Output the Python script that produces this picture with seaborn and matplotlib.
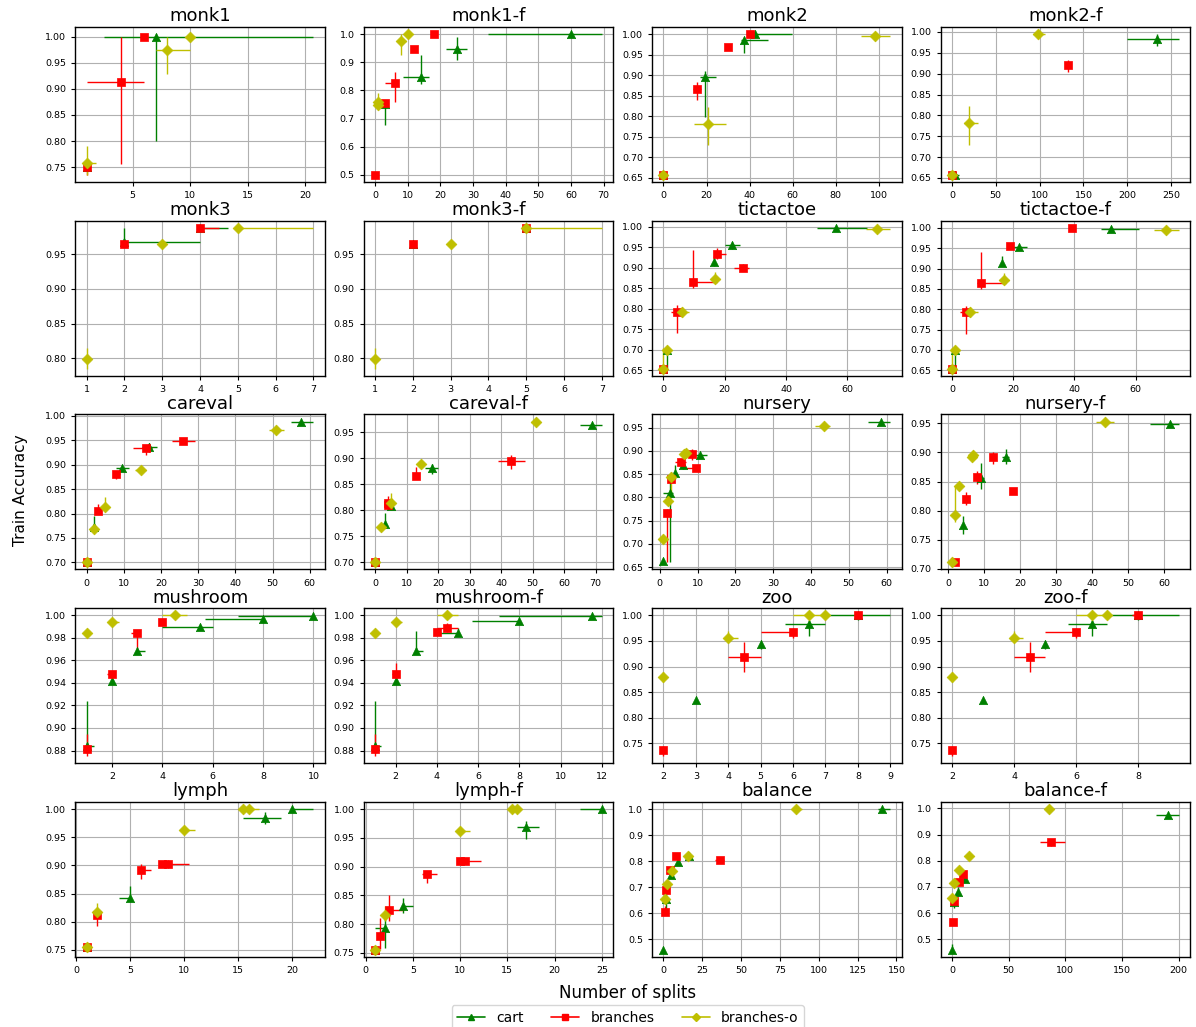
import matplotlib
matplotlib.use("Agg")
import pandas as pd
import matplotlib.pyplot as plt
from matplotlib.lines import Line2D
import seaborn as sns

# Each point: (x, y) or (x, y, x_lo, x_hi, y_lo, y_hi) with the error bar ends
monk1_cart = [(1, 0.75), (7, 1.0, 2.5, 20.7, 0.80, 1.005)]
monk1_branches = [(1, 0.75, 1, 1, 0.735, 0.755), (4, 0.914, 1, 6, 0.756, 1.0), (6, 1.0)]
monk1_branches_o = [(1, 0.758, 1, 1.8, 0.735, 0.79), (8, 0.974, 7, 10, 0.928, 1.0), (10, 1.0)]

monk1f_cart = [(3, 0.752, 3, 3, 0.679, 0.76), (14, 0.846, 8.5, 16.6, 0.822, 0.927),
               (25, 0.947, 21.7, 28.3, 0.909, 0.99), (60, 1.0, 34.5, 69.5, 1.0, 1.0)]
monk1f_branches = [(0, 0.5), (3, 0.755), (6, 0.826, 3, 6, 0.758, 0.866), (12, 0.948), (18, 1.0)]
monk1f_branches_o = [(1, 0.75), (1, 0.758, 1, 1, 0.733, 0.79), (8, 0.974, 8, 9.5, 0.927, 1.0), (10, 1.0)]

monk2_cart = [(0, 0.657), (19.5, 0.896, 16.8, 24.5, 0.797, 0.911),
              (37.6, 0.985, 35.8, 48.6, 0.955, 0.99), (42.5, 1.0, 40.5, 59.7, 1.0, 1.0)]
monk2_branches = [(0, 0.657), (15.5, 0.867, 13.5, 17.5, 0.84, 0.884), (30, 0.969), (40, 1.0)]
monk2_branches_o = [(0, 0.657), (20.5, 0.781, 14.3, 29, 0.73, 0.823), (98, 0.995, 91.7, 105.3, 0.99, 0.998)]

monk2f_cart = [(3, 0.658, 0, 8, 0.658, 0.658), (234, 0.983, 200, 258.6, 0.966, 0.995)]
monk2f_branches = [(0, 0.658), (132, 0.92, 132, 132, 0.905, 0.932)]
monk2f_branches_o = [(0, 0.657), (20, 0.781, 14, 30, 0.73, 0.823), (98, 0.995, 92, 106, 0.995, 0.995)]

monk3_cart = [(2, 0.968, 2, 4, 0.968, 0.988), (4, 0.988, 4, 4.75, 0.988, 0.988)]
monk3_branches = [(2, 0.964), (4, 0.988, 4, 4.5, 0.988, 0.988)]
monk3_branches_o = [(1, 0.799, 1, 1, 0.785, 0.815), (3, 0.964), (5, 0.988, 5, 7, 0.988, 0.988)]

monk3f_cart = [(2, 0.964), (5, 0.988)]
monk3f_branches = [(2, 0.964, 2, 2, 0.96, 0.968), (5, 0.988)]
monk3f_branches_o = [(1, 0.799, 1, 1, 0.785, 0.815), (3, 0.964), (5, 0.988, 5, 7, 0.988, 0.988)]

tictactoe_cart = [(0, 0.654), (1, 0.70, 1, 1, 0.655, 0.70), (16.4, 0.914, 16.4, 16.4, 0.905, 0.928),
                  (22.4, 0.955, 20, 25.1, 0.945, 0.963), (56.3, 0.997, 50.2, 66.4, 0.997, 0.997)]
tictactoe_branches = [(0, 0.654), (4.4, 0.793, 2.4, 5.9, 0.74, 0.808), (9.5, 0.866, 9.5, 17.6, 0.85, 0.943),
                      (17.5, 0.934, 17.5, 20.5, 0.92, 0.948), (26, 0.90, 23, 28, 0.895, 0.91)]
tictactoe_branches_o = [(0, 0.654, 0, 0, 0.654, 0.705), (1, 0.70), (5.9, 0.792, 4.5, 8.4, 0.78, 0.805),
                        (16.9, 0.872, 15.5, 18.5, 0.865, 0.89), (69.7, 0.995, 66, 74, 0.995, 0.995)]

tictactoef_cart = [(0, 0.654), (1, 0.70, 1, 1, 0.655, 0.70), (16.5, 0.914, 16.5, 16.5, 0.905, 0.93),
                   (22, 0.954, 20, 24.5, 0.954, 0.954), (52, 0.997, 48.5, 61, 0.997, 0.997)]
tictactoef_branches = [(0, 0.654), (4.5, 0.792, 2.5, 6, 0.74, 0.808), (9.5, 0.864, 8.3, 17.5, 0.85, 0.94),
                       (19.1, 0.955), (39.2, 1.0)]
tictactoef_branches_o = [(0, 0.654, 0, 0, 0.654, 0.705), (1, 0.70), (5.9, 0.792, 4.5, 8.4, 0.78, 0.805),
                         (16.9, 0.872, 15.5, 18.5, 0.865, 0.89), (70, 0.995, 66, 74, 0.995, 0.995)]

careval_cart = [(0, 0.70), (1.9, 0.772, 1.9, 1.9, 0.768, 0.795), (9.5, 0.893, 8, 11.5, 0.893, 0.893),
                (16.8, 0.936, 15, 19, 0.925, 0.944), (57.7, 0.988, 55, 61, 0.988, 0.988)]
careval_branches = [(0, 0.70), (3, 0.806, 3, 3, 0.80, 0.82), (8, 0.881, 7, 9, 0.87, 0.884),
                    (16, 0.934, 12.5, 17.5, 0.92, 0.94), (26, 0.948, 23, 29, 0.948, 0.948)]
careval_branches_o = [(0, 0.70), (2, 0.768), (5, 0.814, 5, 5, 0.81, 0.833),
                      (14.5, 0.889, 13, 16, 0.889, 0.889), (51, 0.971, 49, 53, 0.971, 0.971)]

carevalf_cart = [(0, 0.70), (3, 0.774, 3, 3, 0.77, 0.795), (5, 0.808),
                 (18, 0.881, 16, 20, 0.871, 0.889), (69, 0.964, 65, 72, 0.964, 0.964)]
carevalf_branches = [(0, 0.70), (4, 0.81, 4, 4, 0.80, 0.827), (4, 0.815),
                     (13, 0.867, 12, 14, 0.86, 0.883), (43, 0.896, 39, 47.5, 0.88, 0.907)]
carevalf_branches_o = [(0, 0.70), (2, 0.768), (5, 0.814, 5, 5, 0.80, 0.833), (14.5, 0.889),
                       (51, 0.971, 49.5, 52.5, 0.971, 0.971)]

nursery_cart = [(1, 0.663), (2.6, 0.809, 1, 3.5, 0.66, 0.835), (4.1, 0.852, 4.1, 4.1, 0.84, 0.87),
                (6.2, 0.87, 6.2, 6.2, 0.86, 0.88), (10.6, 0.891, 9, 12.5, 0.891, 0.891),
                (58.6, 0.963, 55, 61, 0.963, 0.963)]
nursery_branches = [(1.9, 0.766, 1.9, 1.9, 0.66, 0.775), (3, 0.84, 3, 3, 0.83, 0.855),
                    (5.6, 0.877, 4, 7, 0.877, 0.877), (8.6, 0.893, 8.6, 8.6, 0.88, 0.905),
                    (9.6, 0.863, 6, 10.5, 0.863, 0.863)]
nursery_branches_o = [(1, 0.711), (2.1, 0.793), (3.1, 0.843, 2.5, 3.5, 0.80, 0.85), (6.5, 0.893),
                      (7, 0.895), (43.5, 0.953, 41, 45, 0.953, 0.953)]

nurseryf_cart = [(4, 0.775, 4, 4, 0.76, 0.79), (9.1, 0.856, 8, 10, 0.837, 0.882),
                 (16, 0.892, 15, 17, 0.88, 0.905), (61.5, 0.949, 56, 64, 0.949, 0.949)]
nurseryf_branches = [(2, 0.711), (5, 0.82, 5, 5, 0.81, 0.832), (8, 0.858, 7.5, 9, 0.845, 0.868),
                     (12.5, 0.892, 12.5, 12.5, 0.88, 0.9), (18, 0.834)]
nurseryf_branches_o = [(1, 0.711), (2, 0.792, 2, 2, 0.78, 0.842), (3, 0.843, 2, 3, 0.835, 0.85),
                       (6.5, 0.892), (7, 0.895), (43.5, 0.953, 41, 46, 0.953, 0.953)]

mushroom_cart = [(1, 0.884, 1, 1.3, 0.878, 0.924), (2, 0.942), (3, 0.968, 3, 3.3, 0.968, 0.968),
                 (5.5, 0.99, 4, 6, 0.99, 0.99), (8, 0.9965, 5.7, 8, 0.9965, 0.9965),
                 (10, 0.9995, 7, 10, 0.9995, 0.9995)]
mushroom_branches = [(1, 0.881, 1, 1, 0.875, 0.895), (2, 0.948, 1.8, 2, 0.948, 0.948),
                     (3, 0.984, 2.75, 3, 0.968, 0.986), (4, 0.994)]
mushroom_branches_o = [(1, 0.984), (2, 0.994, 2, 2.3, 0.994, 0.994), (4.5, 1.0, 4, 5, 1.0, 1.0)]

mushroomf_cart = [(1, 0.884, 1, 1.3, 0.878, 0.924), (2, 0.942), (3, 0.968, 3, 3.3, 0.968, 0.986),
                  (5, 0.984, 4, 5, 0.984, 0.989), (8, 0.9945, 5.7, 8, 0.9945, 0.9945),
                  (11.5, 0.9995, 7, 12, 0.9995, 0.9995)]
mushroomf_branches = [(1, 0.881, 1, 1, 0.875, 0.895), (2, 0.948, 1.8, 2, 0.94, 0.958), (4, 0.985),
                      (4.5, 0.989, 4, 5, 0.985, 0.993)]
mushroomf_branches_o = [(1, 0.984), (2, 0.994, 2, 2.3, 0.994, 0.994), (4.5, 1.0, 4, 5, 1.0, 1.0)]

zoo_cart = [(3, 0.834), (5, 0.944, 5, 5, 0.935, 0.95), (6.5, 0.9825, 5.75, 7, 0.96, 0.99),
            (8, 1.0, 7, 9, 0.99, 1.0)]
zoo_branches = [(2, 0.737, 2, 2, 0.725, 0.745), (4.5, 0.918, 4, 5, 0.89, 0.948),
                (6, 0.967, 5, 6, 0.955, 0.975), (8, 1.0)]
zoo_branches_o = [(2, 0.879, 2, 2, 0.87, 0.89), (4, 0.956, 4, 4.3, 0.95, 0.97), (6.5, 1.0, 6, 7, 1.0, 1.0),
                  (7, 1.0)]

zoof_cart = [(3, 0.834), (5, 0.944, 5, 5, 0.935, 0.95), (6.5, 0.9825, 5.75, 7, 0.96, 0.99),
             (8, 1.0, 7, 9.3, 0.99, 1.0)]
zoof_branches = [(2, 0.737, 2, 2, 0.725, 0.745), (4.5, 0.918, 4, 5, 0.89, 0.948),
                 (6, 0.967, 5, 6, 0.955, 0.975), (8, 1.0, 7.8, 8, 1.0, 1.0)]
zoof_branches_o = [(2, 0.879, 2, 2, 0.87, 0.89), (4, 0.956, 4, 4.3, 0.95, 0.97), (6.5, 1.0, 6, 7, 1.0, 1.0),
                   (7, 1.0)]

lymph_cart = [(1, 0.755), (5, 0.842, 4, 5, 0.84, 0.863), (17.5, 0.984, 15.5, 19, 0.973, 0.995),
              (20, 1.0, 20, 22, 1.0, 1.0)]
lymph_branches = [(1, 0.755), (2, 0.812, 2, 2, 0.793, 0.82), (6, 0.892, 6, 7, 0.875, 0.903), (8, 0.902),
                  (8.5, 0.902, 8.5, 10.5, 0.895, 0.91)]
lymph_branches_o = [(1, 0.755, 1, 1, 0.75, 0.762), (2, 0.8175, 2, 2, 0.81, 0.833),
                    (10, 0.962, 10, 11, 0.962, 0.962), (15.5, 1.0, 15, 16, 1.0, 1.0), (16, 1.0, 16, 17, 1.0, 1.0)]

lymphf_cart = [(1, 0.755), (2, 0.793, 1, 2, 0.758, 0.81), (4, 0.831, 4, 5, 0.82, 0.845),
               (17, 0.969, 16, 18.3, 0.947, 0.98), (25, 1.0, 22.7, 25, 1.0, 1.0)]
lymphf_branches = [(1, 0.755), (1.5, 0.779, 1.5, 1.5, 0.757, 0.81), (2.5, 0.824, 2.5, 4, 0.805, 0.85),
                   (6.5, 0.887, 6, 7.5, 0.871, 0.889), (10, 0.91), (10.5, 0.91, 10.5, 12.2, 0.905, 0.915)]
lymphf_branches_o = [(1, 0.755), (2, 0.815, 2, 2, 0.806, 0.832), (10, 0.962, 10, 11, 0.962, 0.962),
                     (15.5, 1.0), (16, 1.0)]

balance_cart = [(0, 0.459), (1.5, 0.655, 1.5, 1.5, 0.60, 0.70), (4.6, 0.748, 4.6, 4.6, 0.738, 0.76),
                (9.4, 0.795), (16.4, 0.819), (140.6, 1.0, 138, 146, 1.0, 1.0)]
balance_branches = [(0.7, 0.605, 0.7, 0.7, 0.60, 0.628), (1.7, 0.69), (4.1, 0.767), (8, 0.82),
                    (36.2, 0.806, 33, 39, 0.806, 0.806)]
balance_branches_o = [(0.7, 0.655), (2.4, 0.712), (5.8, 0.761), (15.5, 0.82),
                      (85.5, 0.999, 83, 89, 0.999, 0.999)]

balancef_cart = [(0, 0.459, 0, 0, 0.459, 0.48), (2.3, 0.641, 2.3, 2.3, 0.62, 0.66),
                 (5.6, 0.682, 5.6, 5.6, 0.665, 0.70), (12, 0.73), (190.8, 0.976, 180, 200, 0.976, 0.976)]
balancef_branches = [(1, 0.567), (2, 0.645, 2, 2, 0.63, 0.66), (6, 0.719), (10, 0.748),
                     (87.6, 0.873, 78, 100, 0.855, 0.885)]
balancef_branches_o = [(0.5, 0.656), (2.3, 0.714), (6.3, 0.763), (15.3, 0.817, 15.3, 15.3, 0.805, 0.83),
                       (86, 0.998)]

panels = [
    ("monk1", monk1_cart, monk1_branches, monk1_branches_o),
    ("monk1-f", monk1f_cart, monk1f_branches, monk1f_branches_o),
    ("monk2", monk2_cart, monk2_branches, monk2_branches_o),
    ("monk2-f", monk2f_cart, monk2f_branches, monk2f_branches_o),
    ("monk3", monk3_cart, monk3_branches, monk3_branches_o),
    ("monk3-f", monk3f_cart, monk3f_branches, monk3f_branches_o),
    ("tictactoe", tictactoe_cart, tictactoe_branches, tictactoe_branches_o),
    ("tictactoe-f", tictactoef_cart, tictactoef_branches, tictactoef_branches_o),
    ("careval", careval_cart, careval_branches, careval_branches_o),
    ("careval-f", carevalf_cart, carevalf_branches, carevalf_branches_o),
    ("nursery", nursery_cart, nursery_branches, nursery_branches_o),
    ("nursery-f", nurseryf_cart, nurseryf_branches, nurseryf_branches_o),
    ("mushroom", mushroom_cart, mushroom_branches, mushroom_branches_o),
    ("mushroom-f", mushroomf_cart, mushroomf_branches, mushroomf_branches_o),
    ("zoo", zoo_cart, zoo_branches, zoo_branches_o),
    ("zoo-f", zoof_cart, zoof_branches, zoof_branches_o),
    ("lymph", lymph_cart, lymph_branches, lymph_branches_o),
    ("lymph-f", lymphf_cart, lymphf_branches, lymphf_branches_o),
    ("balance", balance_cart, balance_branches, balance_branches_o),
    ("balance-f", balancef_cart, balancef_branches, balancef_branches_o),
]

methods = ["cart", "branches", "branches-o"]
colors = {"cart": "g", "branches": "r", "branches-o": "y"}
markers = {"cart": "^", "branches": "s", "branches-o": "D"}
sizes = {"cart": 36, "branches": 34, "branches-o": 30}


def to_frame(points):
    rows = []
    for p in points:
        x, y = p[0], p[1]
        if len(p) == 2:
            rows.append((x, y, x, x, y, y))
        else:
            rows.append((x, y) + tuple(p[2:]))
    return pd.DataFrame(rows, columns=["x", "y", "xlo", "xhi", "ylo", "yhi"])


sns.set_style("ticks", {"axes.grid": True, "grid.color": "#b0b0b0",
                        "axes.edgecolor": "black", "xtick.color": "black",
                        "ytick.color": "black", "text.color": "black"})
plt.rcParams["font.family"] = ["DejaVu Sans"]

fig, axes = plt.subplots(5, 4, figsize=(11.96, 10.27), dpi=100)
fig.subplots_adjust(left=0.063, right=0.995, top=0.9737, bottom=0.0682,
                    wspace=0.156, hspace=0.25)

for ax, (name, *series) in zip(axes.flat, panels):
    for method, pts in zip(methods, series):
        d = to_frame(pts)
        ax.errorbar(d["x"], d["y"],
                    xerr=[d["x"] - d["xlo"], d["xhi"] - d["x"]],
                    yerr=[d["y"] - d["ylo"], d["yhi"] - d["y"]],
                    fmt="none", ecolor=colors[method], elinewidth=1.0)
        sns.scatterplot(data=d, x="x", y="y", marker=markers[method],
                        color=colors[method], edgecolor=colors[method],
                        s=sizes[method], linewidth=0.5, ax=ax, legend=False, zorder=3)
    ax.set_title(name, fontsize=13, pad=4)
    ax.set_xlabel("")
    ax.set_ylabel("")
    ax.tick_params(labelsize=6.8, length=3, width=0.8)
    ax.grid(True, color="#b0b0b0", linewidth=0.8)
    for s in ax.spines.values():
        s.set_color("black")
        s.set_linewidth(1.0)

fig.text(0.017, 0.523, "Train Accuracy", rotation=90, ha="center", va="center", fontsize=11)
fig.text(0.525, 0.033, "Number of splits", ha="center", va="center", fontsize=12)

handles = [Line2D([0], [0], color=colors[m], marker=markers[m], markersize=4, lw=1.2)
           for m in methods]
fig.legend(handles, methods, loc="upper center", bbox_to_anchor=(0.525, 0.028),
           ncol=3, fontsize=10, frameon=True)

fig.savefig("out.png", dpi=100)
